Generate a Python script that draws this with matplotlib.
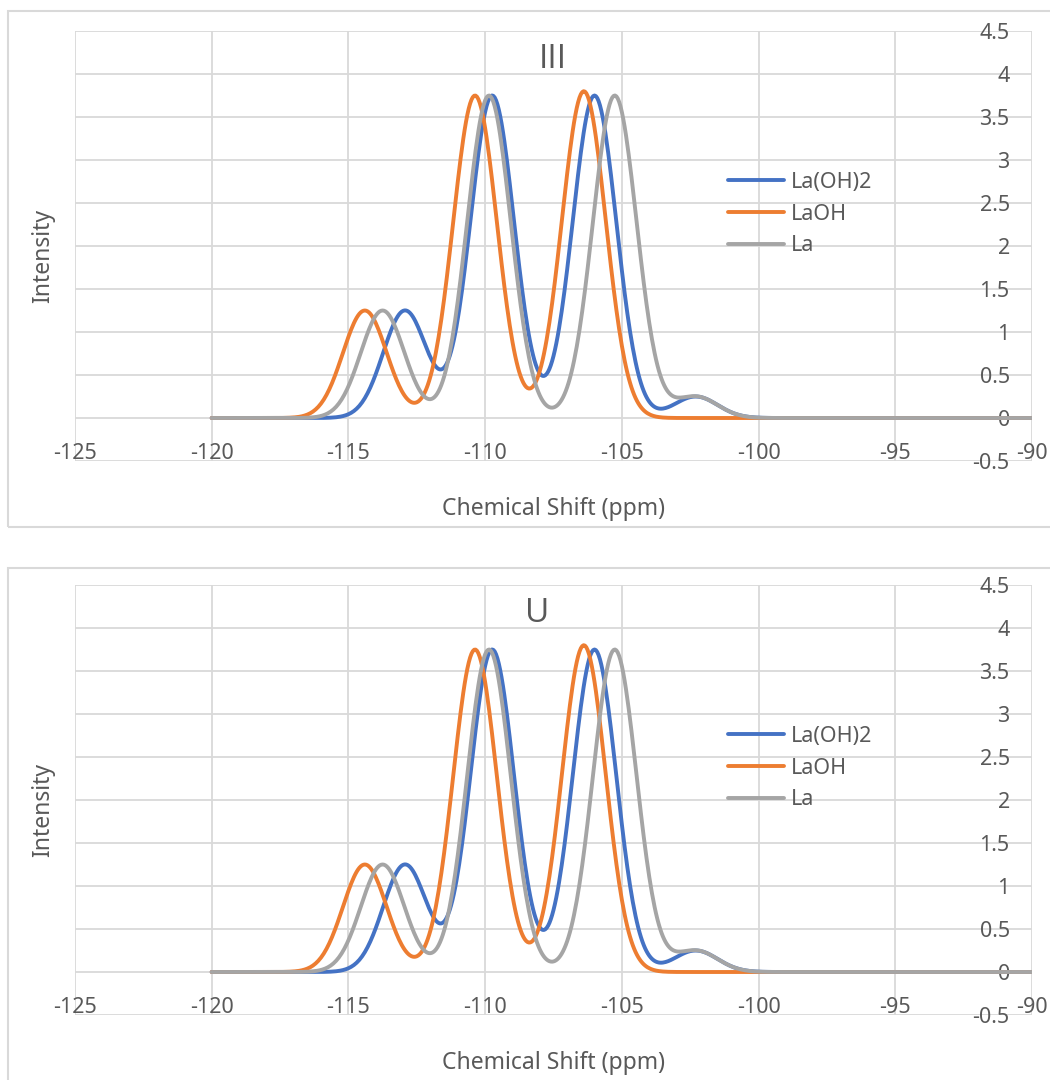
import numpy as np
import matplotlib
matplotlib.use("Agg")
import matplotlib.pyplot as plt
from matplotlib.patches import Rectangle

plt.rcParams['font.family'] = ['Noto Sans', 'DejaVu Sans']

# spectrum grid in ppm (Excel series runs from -120 to -90)
shift = np.arange(-120, -89.999, 0.05)

series = ['La(OH)2', 'LaOH', 'La']
colors = ['#4472C4', '#ED7D31', '#A5A5A5']

# peak positions (ppm) and heights, same for both panels
pos_laoh2 = [-112.93, -109.74, -106.0, -102.3]
amp_laoh2 = [1.25, 3.75, 3.75, 0.25]
pos_laoh = [-114.4, -110.37, -106.39]
amp_laoh = [1.25, 3.75, 3.80]
pos_la = [-113.75, -109.86, -105.26, -102.3]
amp_la = [1.25, 3.75, 3.75, 0.25]
sigma = 0.8  # gaussian line width (ppm)

panel_titles = ['III', 'U']
xticks = [-125, -120, -115, -110, -105, -100, -95, -90]
yticks = [-0.5, 0, 0.5, 1, 1.5, 2, 2.5, 3, 3.5, 4, 4.5]
ytick_labels = ['-0.5', '0', '0.5', '1', '1.5', '2', '2.5', '3', '3.5', '4', '4.5']


def spectrum(pos, amp):
    y = np.zeros_like(shift)
    for p, a in zip(pos, amp):
        y += a * np.exp(-(shift - p) ** 2 / (2 * sigma ** 2))
    return y


curves = [spectrum(pos_laoh2, amp_laoh2),
          spectrum(pos_laoh, amp_laoh),
          spectrum(pos_la, amp_la)]

W, H = 1050, 1080
fig = plt.figure(figsize=(W / 100, H / 100), dpi=100)
txt = '#595959'
grid = '#D9D9D9'
title_x = [553, 537]

for i, title in enumerate(panel_titles):
    off = 0 if i == 0 else 554
    # chart area border
    fig.add_artist(Rectangle((7.5 / W, 1 - (527 + off * 1.005) / H), 1.1, (516) / H,
                             transform=fig.transFigure, fill=False,
                             edgecolor=grid, lw=1.5))

    ax = fig.add_axes([75 / W, 1 - (461 + off) / H, 957 / W, 430 / H])
    for c, y, name in zip(colors, curves, series):
        ax.plot(shift, y, color=c, lw=2.8, label=name, solid_capstyle='round')

    ax.set_xlim(-125, -90)
    ax.set_ylim(-0.5, 4.5)
    ax.set_xticks(xticks)
    ax.set_xticklabels([str(v) for v in xticks])
    ax.set_yticks(yticks)
    ax.set_yticklabels(ytick_labels)
    ax.grid(color=grid, lw=1.3)
    ax.set_axisbelow(True)
    for s in ax.spines.values():
        s.set_visible(False)
    ax.spines['bottom'].set_position(('data', 0))
    ax.spines['left'].set_position(('data', -90))
    ax.tick_params(axis='x', length=0, pad=18, labelsize=15.5, colors=txt)
    ax.tick_params(axis='y', length=0, pad=16, labelsize=15.5, colors=txt)

    ax.legend(loc='center left', bbox_to_anchor=(728 / W, 1 - (214 + off) / H),
              bbox_transform=fig.transFigure, frameon=False, borderaxespad=0,
              borderpad=0, handlelength=2.6, handletextpad=0.3,
              labelspacing=0.5, fontsize=15.5, labelcolor=txt)

    fig.text(title_x[i] / W, 1 - (60 + off) / H, title, ha='center', va='center',
             fontsize=24, color=txt, family=['Open Sans', 'DejaVu Sans'])
    fig.text(553 / W, 1 - (509 + off) / H, 'Chemical Shift (ppm)', ha='center',
             va='center', fontsize=16.5, color=txt)
    fig.text(43 / W, 1 - (256 + off) / H, 'Intensity', ha='center', va='center',
             rotation=90, fontsize=16.5, color=txt)

fig.savefig('out.png', dpi=100)
